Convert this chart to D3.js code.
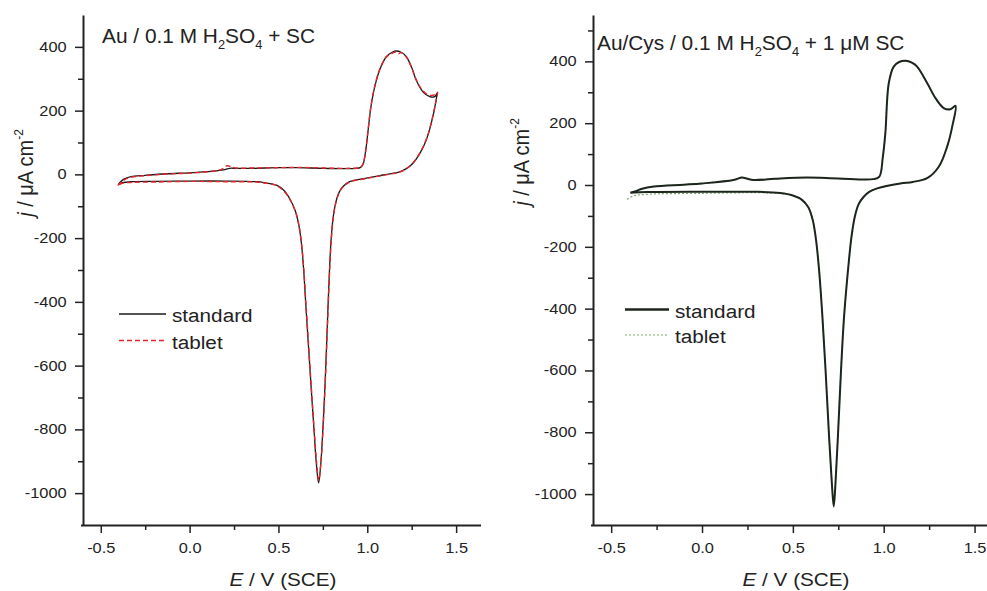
<!DOCTYPE html>
<html><head><meta charset="utf-8">
<script src="https://cdn.jsdelivr.net/npm/d3@7/dist/d3.min.js"></script>
<style>
html,body{margin:0;padding:0;background:#fff;}
svg{display:block;font-family:"Liberation Sans",Arial,sans-serif;}
</style></head>
<body><svg id="c" width="987" height="591"></svg>
<script>
// ---------- data ----------
const seriesNames = ["standard", "tablet"];
const xMajorTicks = [-0.5, 0.0, 0.5, 1.0, 1.5];
const xMinorTicks = [-0.25, 0.25, 0.75, 1.25];
const yMajorTicks = [-1000, -800, -600, -400, -200, 0, 200, 400];
const yMinorTicksLeft = [-900, -700, -500, -300, -100, 100, 300];
const yMinorTicksRight = [-900, -700, -500, -300, -100, 100, 300, 500];

// Left panel: Au / 0.1 M H2SO4 + SC   [E (V), j (uA cm-2)]
const leftStandard = [
 [-0.40,-30],[-0.37,-15],[-0.33,-7],[-0.25,-3],[-0.13,2],[0.0,5],[0.13,10],[0.19,14],[0.225,19],[0.26,19],
 [0.35,19],[0.5,21],[0.6,21],[0.75,19],[0.9,18],[0.96,21],[0.975,30],[0.99,70],[1.005,140],[1.02,210],
 [1.04,270],[1.07,328],[1.107,369],[1.14,383],[1.165,387],[1.19,383],[1.22,369],[1.25,335],[1.275,296],
 [1.313,259],[1.351,244],[1.38,244],[1.392,254],
 [1.385,225],[1.36,160],[1.332,108],[1.3,70],[1.257,35],[1.22,18],[1.182,8],[1.088,-2],[0.994,-12],
 [0.9,-23],[0.862,-39],[0.84,-58],[0.822,-90],[0.808,-135],[0.797,-200],[0.788,-290],[0.78,-400],
 [0.772,-520],[0.762,-660],[0.75,-800],[0.738,-910],[0.726,-968],[0.713,-905],[0.7,-800],[0.685,-677],
 [0.668,-530],[0.653,-400],[0.642,-300],[0.63,-220],[0.615,-160],[0.595,-115],[0.565,-78],[0.53,-50],
 [0.489,-34],[0.42,-26],[0.375,-23],[0.2,-21],[0.0,-21],[-0.2,-22],[-0.32,-23],[-0.38,-26],[-0.40,-30]
];
const leftTablet = [
 [-0.405,-35],[-0.37,-18],[-0.33,-9],[-0.25,-4],[-0.13,1],[0.0,4],[0.13,10],[0.18,16],[0.21,27],[0.235,24],
 [0.26,20],[0.35,20],[0.5,21],[0.6,22],[0.75,20],[0.9,19],[0.96,22],[0.975,32],[0.99,72],[1.005,142],[1.02,212],
 [1.04,272],[1.07,330],[1.107,368],[1.14,380],[1.16,384],[1.175,378],[1.19,382],[1.22,368],[1.25,334],[1.275,298],
 [1.313,262],[1.351,248],[1.38,250],[1.395,258],
 [1.385,226],[1.36,162],[1.332,110],[1.3,71],[1.257,36],[1.22,18],[1.182,7],[1.088,-3],[0.994,-13],
 [0.9,-24],[0.862,-40],[0.84,-60],[0.822,-92],[0.808,-138],[0.798,-202],[0.789,-292],[0.781,-400],
 [0.773,-520],[0.763,-660],[0.751,-800],[0.739,-905],[0.727,-960],[0.714,-900],[0.701,-800],[0.686,-677],
 [0.669,-530],[0.654,-400],[0.643,-300],[0.631,-222],[0.616,-162],[0.596,-117],[0.566,-80],[0.53,-52],
 [0.489,-35],[0.42,-27],[0.375,-24],[0.2,-23],[0.0,-22],[-0.2,-24],[-0.32,-25],[-0.38,-28],[-0.405,-35]
];

// Right panel: Au/Cys / 0.1 M H2SO4 + 1 uM SC
const rightStandard = [
 [-0.395,-25],[-0.36,-19],[-0.33,-12],[-0.266,-5],[-0.1,1],[0.0,5],[0.173,16],[0.22,24],[0.25,20],[0.284,16],
 [0.4,20],[0.578,24],[0.75,21],[0.944,19],[0.976,27],[0.995,90],[1.009,168],[1.028,330],[1.055,383],
 [1.085,398],[1.12,402],[1.155,396],[1.184,383],[1.239,330],[1.285,281],[1.33,249],[1.367,245],[1.395,256],
 [1.377,189],[1.349,124],[1.303,59],[1.239,22],[1.16,10],[1.092,5],[0.964,-11],[0.92,-22],[0.89,-38],
 [0.862,-62],[0.84,-105],[0.822,-170],[0.806,-260],[0.792,-350],[0.779,-450],[0.765,-600],[0.749,-800],
 [0.735,-960],[0.725,-1040],[0.714,-960],[0.698,-800],[0.68,-600],[0.662,-420],[0.645,-280],[0.628,-180],
 [0.61,-115],[0.585,-72],[0.55,-48],[0.5,-34],[0.43,-26],[0.3,-22],[0.0,-22],[-0.3,-23],[-0.395,-25]
];
const rightTablet = [
 [-0.38,-22],[-0.35,-17],[-0.33,-12],[-0.266,-5],[-0.1,1],[0.0,5],[0.173,16],[0.22,23],[0.25,20],[0.284,16],
 [0.4,20],[0.578,24],[0.75,21],[0.944,19],[0.976,27],[0.995,90],[1.009,168],[1.028,330],[1.055,382],
 [1.085,397],[1.12,401],[1.155,395],[1.184,382],[1.239,330],[1.285,281],[1.33,249],[1.367,246],[1.395,256],
 [1.377,189],[1.349,124],[1.303,59],[1.239,22],[1.16,10],[1.092,5],[0.964,-11],[0.92,-22],[0.89,-38],
 [0.862,-62],[0.84,-105],[0.822,-170],[0.806,-260],[0.792,-350],[0.779,-450],[0.765,-600],[0.749,-800],
 [0.735,-955],[0.725,-1035],[0.714,-955],[0.698,-800],[0.68,-600],[0.662,-420],[0.645,-280],[0.628,-180],
 [0.61,-115],[0.585,-72],[0.55,-48],[0.5,-34],[0.43,-27],[0.3,-25],[0.0,-27],[-0.3,-30],[-0.38,-36],[-0.42,-50]
];

// ---------- drawing ----------
const svg = d3.select("#c");
svg.append("rect").attr("width",987).attr("height",591).attr("fill","#fff");
const ink = "#222";

function panel(cfg){
  const g = svg.append("g");
  const x = d3.scaleLinear().domain([-0.6, 1.64]).range([cfg.x0, cfg.x1]);
  const y = d3.scaleLinear().domain(cfg.yDomain).range([525, 15]);

  // minor ticks
  g.append("g").attr("transform",`translate(0,525)`)
    .call(d3.axisBottom(x).tickValues(xMinorTicks).tickSize(5).tickSizeOuter(0).tickFormat(""))
    .call(s=>s.select(".domain").remove());
  g.append("g").attr("transform",`translate(${cfg.x0},0)`)
    .call(d3.axisLeft(y).tickValues(cfg.yMinor).tickSize(5).tickSizeOuter(0).tickFormat(""))
    .call(s=>s.select(".domain").remove());

  // major axes
  const xa = g.append("g").attr("transform",`translate(0,525)`)
    .call(d3.axisBottom(x).tickValues(xMajorTicks).tickSize(8).tickPadding(10).tickSizeOuter(0)
      .tickFormat(d=>d.toFixed(1)));
  const ya = g.append("g").attr("transform",`translate(${cfg.x0},0)`)
    .call(d3.axisLeft(y).tickValues(yMajorTicks).tickSize(8).tickPadding(6).tickSizeOuter(0)
      .tickFormat(d=>String(d)));
  g.selectAll(".tick line").attr("stroke",ink).attr("stroke-width",1.5);
  [xa,ya].forEach(a=>{
    a.select(".domain").attr("stroke",ink).attr("stroke-width",2);
    a.selectAll("text").attr("fill",ink).style("font-size","14px")
      .attr("font-family","'Liberation Sans',Arial,sans-serif")
      .attr("transform","scale(1.17,1)");
  });
  xa.select(".domain").attr("d",`M${cfg.x0-2},0.5H${cfg.x1}`);

  // curves
  const line = d3.line().x(d=>x(d[0])).y(d=>y(d[1])).curve(d3.curveCatmullRom.alpha(0.5));
  cfg.order.forEach(k=>{
    const st = cfg.styles[k];
    g.append("path").datum(cfg.data[k]).attr("d",line)
      .attr("fill","none").attr("stroke",st.color).attr("stroke-width",st.width)
      .attr("stroke-dasharray",st.dash||null).attr("stroke-linejoin","round");
  });

  // title
  const t = g.append("text").attr("transform",`translate(${cfg.titleX},${cfg.titleY}) scale(1.07,1)`)
    .style("font-size","19.5px").attr("fill",ink);
  cfg.title.forEach(p=>{
    const ts = t.append("tspan").text(p.t);
    if(p.sub){ ts.style("font-size","12px").attr("dy",6); }
    if(p.back){ ts.attr("dy",-6); }
  });

  // y label
  const yl = g.append("text")
    .attr("transform",`translate(${cfg.yLabX},${cfg.yLabY}) scale(1.09,1) rotate(-90)`)
    .attr("text-anchor","middle").style("font-size","20px").attr("fill",ink);
  yl.append("tspan").text("j").style("font-style","italic");
  yl.append("tspan").text(" / μA cm");
  yl.append("tspan").text("-2").style("font-size","12px").attr("dy",-9);

  // x label
  const xl = g.append("text")
    .attr("transform",`translate(${cfg.xLabX},586) scale(1.09,1)`)
    .attr("text-anchor","middle").style("font-size","19px").attr("fill",ink);
  xl.append("tspan").text("E").style("font-style","italic");
  xl.append("tspan").text(" / V (SCE)");

  // legend
  seriesNames.forEach((k,i)=>{
    const st = cfg.styles[k];
    const ly = cfg.legY + i*cfg.legDy;
    g.append("line").attr("x1",cfg.legX).attr("x2",cfg.legX+cfg.legLen).attr("y1",ly).attr("y2",ly)
      .attr("stroke",st.color).attr("stroke-width",st.legWidth||st.width).attr("stroke-dasharray",st.dash||null);
    g.append("text").attr("transform",`translate(${cfg.legX+cfg.legLen+6},${ly+8}) scale(1.09,1)`)
      .style("font-size","19px").attr("fill",ink).text(k);
  });
}

panel({
  x0:83, x1:481, yDomain:[-1100,500], yMinor:yMinorTicksLeft,
  data:{standard:leftStandard, tablet:leftTablet}, order:["standard","tablet"],
  styles:{standard:{color:"#1a1a1a",width:1.3}, tablet:{color:"#e3262b",width:1.4,dash:"5,3"}},
  title:[{t:"Au / 0.1 M H"},{t:"2",sub:true},{t:"SO",back:true},{t:"4",sub:true},{t:" + SC",back:true}],
  titleX:102, titleY:43, yLabX:33, yLabY:173, xLabX:283,
  legX:119, legLen:47, legY:314, legDy:26.5
});
panel({
  x0:593, x1:1000, yDomain:[-1100,550], yMinor:yMinorTicksRight,
  data:{standard:rightStandard, tablet:rightTablet}, order:["tablet","standard"],
  styles:{standard:{color:"#1c261c",width:2,legWidth:2.6}, tablet:{color:"#7fa86f",width:1.2,dash:"2,2"}},
  title:[{t:"Au/Cys / 0.1 M H"},{t:"2",sub:true},{t:"SO",back:true},{t:"4",sub:true},{t:" + 1 μM SC",back:true}],
  titleX:597, titleY:50, yLabX:529, yLabY:162, xLabX:796,
  legX:625, legLen:44, legY:309.5, legDy:25.5
});
</script></body></html>
